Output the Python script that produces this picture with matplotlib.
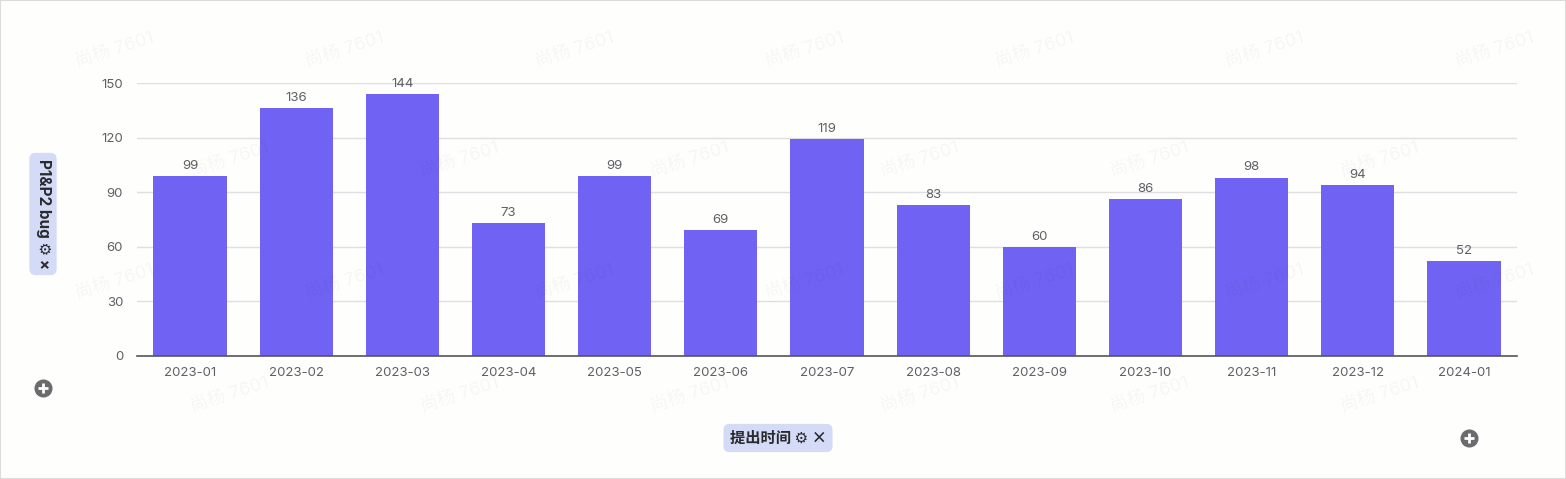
import matplotlib
matplotlib.use("Agg")
import matplotlib.pyplot as plt
from matplotlib.lines import Line2D
from matplotlib.patches import Rectangle
import numpy as np

# ---------------------------------------------------------------------------
# data
# ---------------------------------------------------------------------------
months = ["2023-01", "2023-02", "2023-03", "2023-04", "2023-05", "2023-06",
          "2023-07", "2023-08", "2023-09", "2023-10", "2023-11", "2023-12",
          "2024-01"]
bug_counts = [99, 136, 144, 73, 99, 69, 119, 83, 60, 86, 98, 94, 52]
y_ticks = [0, 30, 60, 90, 120, 150]

BAR_COLOR = "#7063f3"
BG_COLOR = "#fefefd"
TEXT_COLOR = "#5f5f66"
CHIP_COLOR = "#d3dbf7"
FONTS = ["Inter", "Noto Sans CJK SC", "DejaVu Sans"]

plt.rcParams["font.family"] = FONTS

W, H = 1566, 479
fig = plt.figure(figsize=(W / 100, H / 100), dpi=100, facecolor=BG_COLOR)

# faint watermarks (only the ones that fit fully inside the canvas)
for row_y, x0 in [(50, 115), (160, 0), (282, 115), (395, 0)]:
    for k in range(8):
        x = x0 + 230 * k
        if x < 70 or x > 1500:
            continue
        fig.text(x / W, 1 - row_y / H, "尚杨 7601", fontsize=13,
                 color="#000000", alpha=0.035, rotation=18,
                 ha="center", va="center", zorder=0)

ax = fig.add_axes([137 / W, 1 - 356 / H, (1517 - 137) / W, (356 - 83) / H])
ax.set_facecolor("none")
xs = np.arange(len(months))
ax.bar(xs, bug_counts, width=0.69, color=BAR_COLOR, zorder=2)
for x, v in zip(xs, bug_counts):
    ax.annotate(str(v), (x, v), xytext=(0, 3), textcoords="offset points",
                ha="center", va="bottom", fontsize=9.5, color=TEXT_COLOR,
                annotation_clip=False, zorder=3)

ax.set_xlim(-0.5, len(months) - 0.5)
ax.set_ylim(0, 150)
ax.set_xticks(xs)
ax.set_xticklabels(months)
ax.set_yticks(y_ticks)
ax.tick_params(axis="both", length=0, labelsize=9.5, labelcolor=TEXT_COLOR)
ax.tick_params(axis="x", pad=8)
ax.tick_params(axis="y", pad=10)
ax.grid(axis="y", color="#dfdfe3", linewidth=1, zorder=0)
for side in ["top", "right", "left"]:
    ax.spines[side].set_visible(False)
ax.spines["bottom"].set_color("#55555a")
ax.spines["bottom"].set_linewidth(1.2)
ax.spines["bottom"].set_zorder(4)

# axis "chips"
chip = dict(boxstyle="round,pad=0.4,rounding_size=0.4", fc=CHIP_COLOR,
            ec="none")
fig.text(43 / W, 1 - 214 / H, "P1&P2 bug ⚙ ×", rotation=270,
         ha="center", va="center", fontsize=11, fontweight="bold",
         color="#2a2a2e", bbox=chip, family=FONTS)
fig.text(778 / W, 1 - 438 / H, "提出时间 ⚙ ×", ha="center", va="center",
         fontsize=11, fontweight="bold", color="#2a2a2e", bbox=chip,
         family=["Noto Sans CJK SC", "DejaVu Sans"])

# plus buttons
for px, py in [(43, 388), (1469, 438)]:
    fig.add_artist(Line2D([px / W], [1 - py / H], marker="o", markersize=12,
                          color="#6b6b6e", transform=fig.transFigure))
    fig.add_artist(Line2D([px / W], [1 - py / H], marker="+", markersize=7,
                          markeredgewidth=2, color="white",
                          transform=fig.transFigure))

# frame
fig.add_artist(Rectangle((0, 0), 1, 1, transform=fig.transFigure,
                         fill=False, ec="#dcdcdc", lw=1.5))

fig.savefig("out.png", dpi=100, facecolor=BG_COLOR)
